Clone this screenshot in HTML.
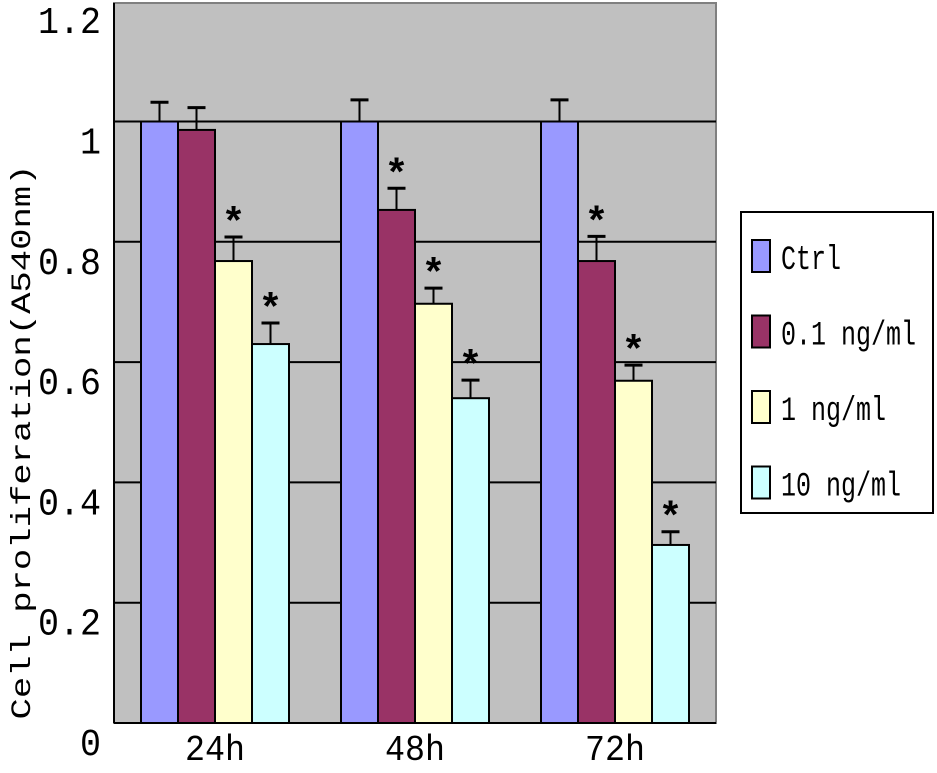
<!DOCTYPE html>
<html><head><meta charset="utf-8"><style>body{margin:0;background:#fff}svg{display:block}</style></head>
<body>
<svg id="chart" width="937" height="773" xmlns="http://www.w3.org/2000/svg" font-family="Liberation Mono, monospace">
<rect x="114" y="3" width="602" height="720" fill="#c0c0c0" stroke="#808080" stroke-width="2"/>
<g id="grid"></g><g id="bars"></g><g id="axes"></g>
<text transform="translate(30,442) rotate(-90)" text-anchor="middle" font-size="28" textLength="555" lengthAdjust="spacingAndGlyphs">Cell proliferation(A540nm)</text>
<g>
<rect x="741" y="212" width="192" height="301" fill="#fff" stroke="#000" stroke-width="2"/>
<g id="legend"></g>
</g>
</svg>
<script>
const categories=["24h","48h","72h"];
const seriesNames=["Ctrl","0.1 ng/ml","1 ng/ml","10 ng/ml"];
const ctrl=[1.0,1.0,1.0];
const s01=[0.986,0.853,0.768];
const s1=[0.768,0.697,0.569];
const s10=[0.630,0.540,0.296];
const errCtrl=[0.032,0.036,0.036];
const err01=[0.037,0.036,0.041];
const err1=[0.040,0.026,0.026];
const err10=[0.035,0.030,0.022];
const sig01=[false,true,true];
const sig1=[true,true,true];
const sig10=[true,true,true];
const yTicks=[0,0.2,0.4,0.6,0.8,1,1.2];
const yTickLabels=["0","0.2","0.4","0.6","0.8","1","1.2"];
const colors=["#9999ff","#993366","#ffffcc","#ccffff"];
const NS="http://www.w3.org/2000/svg";
function el(t,a,p){const e=document.createElementNS(NS,t);for(const k in a)e.setAttribute(k,a[k]);p.appendChild(e);return e;}
const y=v=>723-v*601.5;
const groupX=i=>141+i*200;
const barW=37;
const grid=document.getElementById('grid'),bars=document.getElementById('bars'),axes=document.getElementById('axes'),leg=document.getElementById('legend');
yTicks.forEach((t,i)=>{
 if(t>0&&t<1.2){const l=el('line',{x1:114,x2:716,y1:y(t),y2:y(t),stroke:'#000','stroke-width':2},grid);
 
 }
 const lbl=yTickLabels[i];
 const tx=el('text',{x:101,y:y(t)+32,'text-anchor':'end','font-size':38,textLength:lbl.length*21,lengthAdjust:'spacingAndGlyphs'},axes);
 tx.textContent=lbl;
 
 
});
el('line',{x1:114,x2:114,y1:3,y2:723,stroke:'#000','stroke-width':2},axes);
el('line',{x1:114,x2:716,y1:723,y2:723,stroke:'#000','stroke-width':2},axes);
const vals=[ctrl,s01,s1,s10],errs=[errCtrl,err01,err1,err10],sigs=[null,sig01,sig1,sig10];
categories.forEach((c,i)=>{
 vals.forEach((arr,s)=>{
  const x=groupX(i)+s*barW,v=arr[i];
  const r=el('rect',{x:x,y:y(v),width:barW,height:723-y(v),fill:colors[s],stroke:'#000','stroke-width':2},bars);
  
  
  const cx=x+barW/2,ye=y(v+errs[s][i]);
  el('line',{x1:cx,x2:cx,y1:y(v),y2:ye,stroke:'#000','stroke-width':2},bars);
  el('line',{x1:cx-9,x2:cx+9,y1:ye,y2:ye,stroke:'#000','stroke-width':3},bars);
  if(sigs[s]&&sigs[s][i]){const st=el('text',{x:cx,y:ye-2,'text-anchor':'middle','font-size':40,'font-weight':'bold'},bars);
   st.textContent='*';
   
   }
 });
 const t=el('text',{x:groupX(i)+2*barW,y:760,'text-anchor':'middle','font-size':36,textLength:60,lengthAdjust:'spacingAndGlyphs'},axes);
 t.textContent=c;
 
 
});
seriesNames.forEach((n,s)=>{
 const cy=256+s*75.5;
 const r=el('rect',{x:752,y:cy-16,width:18,height:32,fill:colors[s],stroke:'#000','stroke-width':2},leg);
 
 
 const t=el('text',{x:781,y:cy+13,'font-size':34,textLength:n.length*15,lengthAdjust:'spacingAndGlyphs'},leg);
 t.textContent=n;
 
 
});
</script>
</body></html>
